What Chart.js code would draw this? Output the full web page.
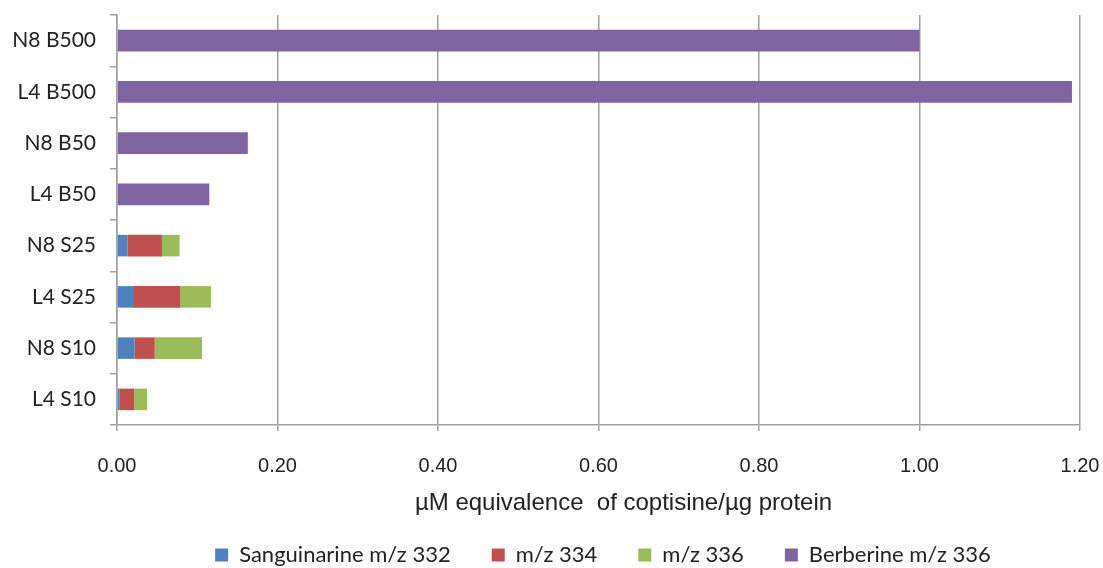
<!DOCTYPE html>
<html>
<head>
<meta charset="utf-8">
<title>Alkaloid uptake</title>
<script src="https://cdn.jsdelivr.net/npm/chart.js@4.4.1/dist/chart.umd.min.js"></script>
<style>
    html, body { margin: 0; padding: 0; background: #fff; }
    #wrap { width: 1103px; height: 568px; position: relative; }
</style>
</head>
<body>
<div id="wrap"><canvas id="uptakeChart"></canvas></div>
<script>
// Samples, top to bottom
const samples = ['N8 B500', 'L4 B500', 'N8 B50', 'L4 B50', 'N8 S25', 'L4 S25', 'N8 S10', 'L4 S10'];

// µM equivalence of coptisine per µg protein, stacked per sample
const sanguinarine332 = [0, 0, 0, 0, 0.013, 0.020, 0.022, 0.0035];
const mz334 = [0, 0, 0, 0, 0.043, 0.059, 0.025, 0.018];
const mz336 = [0, 0, 0, 0, 0.022, 0.038, 0.059, 0.016];
const berberine336 = [1.00, 1.19, 0.163, 0.115, 0, 0, 0, 0];

const xTicks = [0, 0.2, 0.4, 0.6, 0.8, 1.0, 1.2];

const gridGray = '#a0a0a0';
const labelFont = "'Lato', 'Liberation Sans', sans-serif";
const arialFont = "'Liberation Sans', Arial, sans-serif";

function series(label, data, color) {
    return {
        label: label,
        data: data,
        backgroundColor: color,
        borderWidth: 0,
        barPercentage: 0.84,
        categoryPercentage: 0.5
    };
}

// Legend sits a little right of the plot centre
const legendNudge = {
    id: 'legendNudge',
    afterLayout(chart) {
        chart.legend.left += 63;
        chart.legend.right += 63;
    }
};

// Axis title is likewise drawn a bit to the right of centre
function nudgeTitle(scale) {
    if (scale._titleNudged) return;
    scale._titleNudged = true;
    const drawTitle = scale.drawTitle;
    scale.drawTitle = function () {
        this.ctx.save();
        this.ctx.translate(25, 0);
        drawTitle.call(this);
        this.ctx.restore();
    };
}

const ctx = document.getElementById('uptakeChart').getContext('2d');
new Chart(ctx, {
    type: 'bar',
    data: {
        labels: samples,
        datasets: [
            series('Sanguinarine m/z 332', sanguinarine332, '#4f81bd'),
            series('m/z 334', mz334, '#c0504d'),
            series('m/z 336', mz336, '#9bbb59'),
            series('Berberine m/z 336', berberine336, '#8064a2')
        ]
    },
    options: {
        indexAxis: 'y',
        responsive: true,
        maintainAspectRatio: false,
        animation: false,
        layout: { padding: { top: 15, right: 23, bottom: -8, left: 0 } },
        scales: {
            x: {
                stacked: true,
                min: 0,
                max: 1.2,
                afterBuildTicks: axis => { axis.ticks = xTicks.map(v => ({ value: v })); },
                afterFit: scale => {
                    scale.height = 78;
                    scale.paddingLeft = 0;
                    scale.paddingRight = 0;
                    nudgeTitle(scale);
                },
                grid: { color: gridGray, lineWidth: 1.5, tickLength: 6, tickColor: gridGray },
                border: { color: gridGray, width: 1.5 },
                ticks: {
                    padding: 23,
                    color: '#222',
                    font: { family: arialFont, size: 20 },
                    callback: v => Number(v).toFixed(2)
                },
                title: {
                    display: true,
                    text: 'µM equivalence  of coptisine/µg protein',
                    color: '#222',
                    font: { family: arialFont, size: 24 },
                    // legend box overlaps the bottom of this axis, so lift the title back up
                    padding: { top: 10, bottom: -15 }
                }
            },
            y: {
                stacked: true,
                afterFit: scale => {
                    scale.width = 117;
                    scale.paddingTop = 0;
                    scale.paddingBottom = 0;
                },
                grid: { drawOnChartArea: false, offset: true, tickLength: 7, tickColor: gridGray, lineWidth: 1.5 },
                border: { color: gridGray, width: 1.5 },
                ticks: {
                    padding: 14,
                    color: '#222',
                    font: { family: labelFont, size: 21 }
                }
            }
        },
        plugins: {
            legend: {
                position: 'bottom',
                labels: {
                    boxWidth: 13,
                    boxHeight: 13,
                    padding: 41,
                    color: '#222',
                    font: { family: labelFont, size: 22 }
                }
            },
            tooltip: { enabled: false }
        }
    },
    plugins: [legendNudge]
});
</script>
</body>
</html>
